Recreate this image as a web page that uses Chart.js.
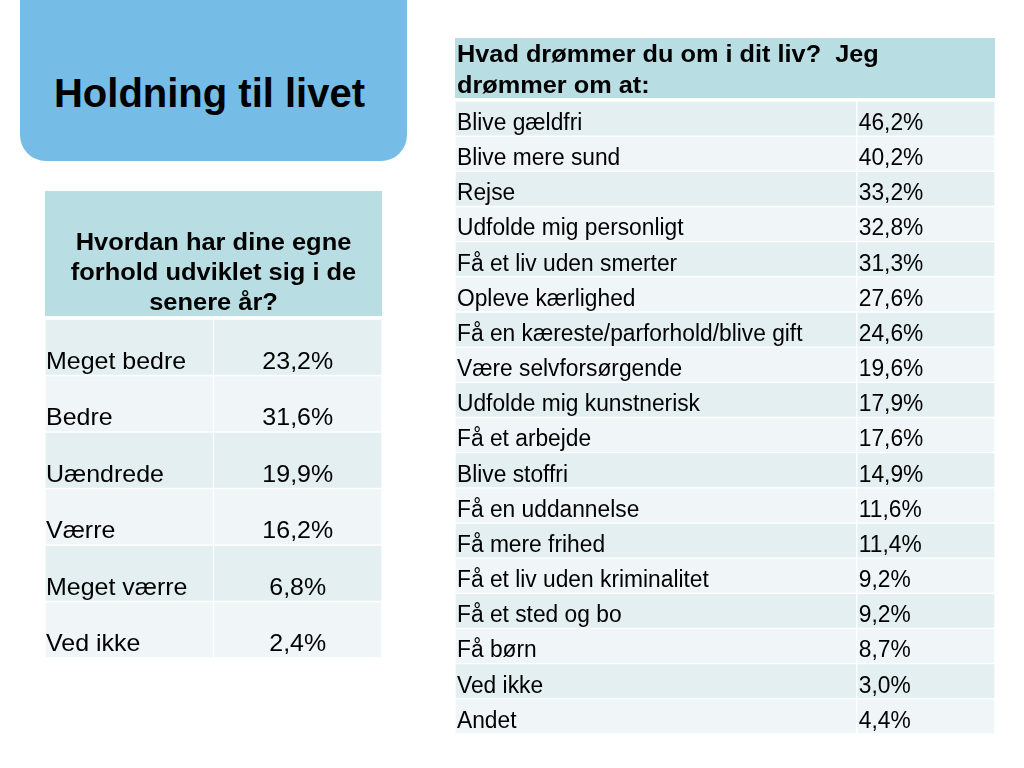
<!DOCTYPE html>
<html>
<head>
<meta charset="utf-8">
<script src="https://cdn.jsdelivr.net/npm/chart.js@4.4.1/dist/chart.umd.min.js"></script>
<style>
  html, body { margin: 0; padding: 0; background: #ffffff; width: 1024px; height: 768px; overflow: hidden; font-family: "Liberation Sans", Arial, sans-serif; }
  #titleBox { position: absolute; left: 20px; top: -30px; width: 387px; height: 191px; background: #75bde6; border-radius: 26px; }
  #titleBox span { position: absolute; left: 0; right: 8px; top: 101px; text-align: center; font-weight: bold; font-size: 40px; line-height: 44px; color: #000; }
  #leftWrap { position: absolute; left: 45px; top: 191px; width: 337px; height: 467px; }
  #rightWrap { position: absolute; left: 455px; top: 38px; width: 540px; height: 696px; }
</style>
</head>
<body>
<div id="titleBox"><span>Holdning til livet</span></div>
<div id="leftWrap"><canvas id="leftChart"></canvas></div>
<div id="rightWrap"><canvas id="rightChart"></canvas></div>
<script>
// ---- Data ----
const leftTitle = ["Hvordan har dine egne", "forhold udviklet sig i de", "senere år?"];
const leftCategories = ["Meget bedre", "Bedre", "Uændrede", "Værre", "Meget værre", "Ved ikke"];
const leftValues = [23.2, 31.6, 19.9, 16.2, 6.8, 2.4];

const rightTitle = ["Hvad drømmer du om i dit liv?  Jeg", "drømmer om at:"];
const rightCategories = [
  "Blive gældfri", "Blive mere sund", "Rejse", "Udfolde mig personligt",
  "Få et liv uden smerter", "Opleve kærlighed", "Få en kæreste/parforhold/blive gift",
  "Være selvforsørgende", "Udfolde mig kunstnerisk", "Få et arbejde", "Blive stoffri",
  "Få en uddannelse", "Få mere frihed", "Få et liv uden kriminalitet", "Få et sted og bo",
  "Få børn", "Ved ikke", "Andet"
];
const rightValues = [46.2, 40.2, 33.2, 32.8, 31.3, 27.6, 24.6, 19.6, 17.9, 17.6, 14.9, 11.6, 11.4, 9.2, 9.2, 8.7, 3.0, 4.4];

// ---- Styling ----
const HEADER = "#b8dde2";
const DARK = "#e3eff1";
const LIGHT = "#f0f6f7";
const FONT = '"Liberation Sans", Arial, sans-serif';

function fmt(v) { return v.toFixed(1).replace(".", ",") + "%"; }

function drawText(ctx, text, x, y, align, stretch) {
  ctx.save();
  ctx.translate(x, y);
  ctx.scale(stretch, 1);
  ctx.textAlign = align;
  ctx.fillText(text, 0, 0);
  ctx.restore();
}

function tableChart(canvasId, cats, vals, cfg) {
  const rowColors = cats.map((c, i) => i % 2 === 0 ? DARK : LIGHT);
  const tablePlugin = {
    id: "tableText",
    beforeDatasetsDraw(chart) {
      const ctx = chart.ctx;
      const a = chart.chartArea;
      ctx.save();
      ctx.fillStyle = HEADER;
      ctx.fillRect(a.left, 0, a.right - a.left, cfg.headerH);
      ctx.fillStyle = "#000";
      ctx.font = "bold " + cfg.headerFont + "px " + FONT;
      ctx.textBaseline = "alphabetic";
      cfg.header.forEach((line, i) => {
        const x = cfg.headerAlign === "center" ? (a.left + a.right) / 2 : a.left + cfg.textPad;
        drawText(ctx, line, x, cfg.headerY0 + i * cfg.headerLH, cfg.headerAlign, cfg.headerStretch);
      });
      ctx.restore();
    },
    afterDatasetsDraw(chart) {
      const ctx = chart.ctx;
      const a = chart.chartArea;
      const xs = chart.scales.x;
      const ys = chart.scales.y;
      ctx.save();
      ctx.fillStyle = "#000";
      ctx.font = cfg.rowFont + "px " + FONT;
      ctx.textBaseline = "middle";
      cats.forEach((c, i) => {
        const y = ys.getPixelForValue(i) + cfg.textDy;
        drawText(ctx, c, a.left + cfg.textPad, y, "left", cfg.rowStretch);
        if (cfg.valueAlign === "center") {
          drawText(ctx, fmt(vals[i]), (xs.getPixelForValue(cfg.split) + xs.getPixelForValue(1)) / 2, y, "center", cfg.rowStretch);
        } else {
          drawText(ctx, fmt(vals[i]), xs.getPixelForValue(cfg.split) + cfg.textPad, y, "left", cfg.rowStretch);
        }
      });
      ctx.restore();
    }
  };
  const barStyle = { backgroundColor: rowColors, borderColor: "#ffffff", borderWidth: 1, borderSkipped: false, barPercentage: 1, categoryPercentage: 1, grouped: false };
  return new Chart(document.getElementById(canvasId), {
    type: "bar",
    data: {
      labels: cats,
      datasets: [
        Object.assign({ data: cats.map(() => [0, cfg.split]) }, barStyle),
        Object.assign({ data: cats.map(() => [cfg.split, 1]) }, barStyle)
      ]
    },
    options: {
      indexAxis: "y",
      responsive: true,
      maintainAspectRatio: false,
      animation: false,
      events: [],
      layout: { padding: { top: cfg.headerH + cfg.gap, left: 0, right: 0, bottom: 0 } },
      plugins: { legend: { display: false }, tooltip: { enabled: false }, title: { display: false } },
      scales: {
        x: { type: "linear", min: 0, max: 1, display: false },
        y: { type: "category", display: false, offset: true, grid: { display: false } }
      }
    },
    plugins: [tablePlugin]
  });
}

tableChart("leftChart", leftCategories, leftValues, {
  header: leftTitle, headerH: 125, gap: 3, headerFont: 24, headerLH: 30, headerY0: 59, headerAlign: "center", headerStretch: 1.06,
  rowFont: 24, rowStretch: 1.04, textPad: 1, textDy: 15, split: 0.5, valueAlign: "center"
});
tableChart("rightChart", rightCategories, rightValues, {
  header: rightTitle, headerH: 60, gap: 3, headerFont: 23, headerLH: 31, headerY0: 24, headerAlign: "left", headerStretch: 1.1,
  rowFont: 23, rowStretch: 0.99, textPad: 2, textDy: 5, split: 0.744, valueAlign: "left"
});
</script>
</body>
</html>
